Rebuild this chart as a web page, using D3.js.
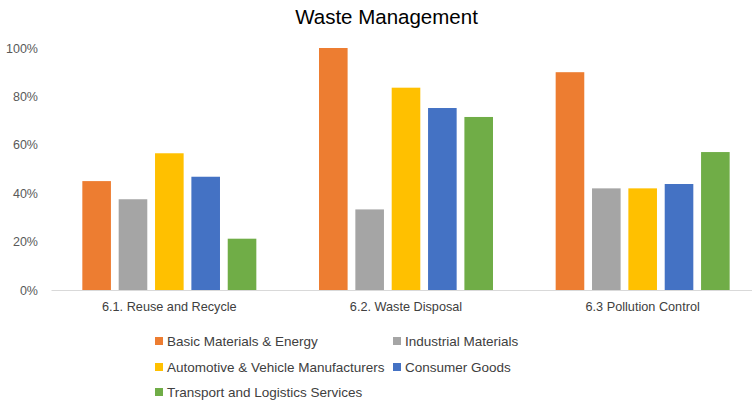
<!DOCTYPE html>
<html><head><meta charset="utf-8">
<script src="https://cdn.jsdelivr.net/npm/d3@7"></script>
<style>body{margin:0;background:#fff}svg{display:block}text{font-family:"Liberation Sans",Arial,sans-serif;fill:#595959}</style>
</head><body><svg id="c" width="752" height="403"></svg>
<script>
const categories = ["6.1. Reuse and Recycle", "6.2. Waste Disposal", "6.3 Pollution Control"];
const seriesNames = ["Basic Materials & Energy", "Industrial Materials", "Automotive & Vehicle Manufacturers", "Consumer Goods", "Transport and Logistics Services"];
const colors = ["#ED7D31", "#A5A5A5", "#FFC000", "#4472C4", "#70AD47"];
const basicMaterials = [0.45, 1.00, 0.90];
const industrialMaterials = [0.375, 0.333, 0.42];
const automotive = [0.565, 0.836, 0.42];
const consumerGoods = [0.468, 0.752, 0.438];
const transport = [0.212, 0.715, 0.57];
const yTicks = [0, 0.2, 0.4, 0.6, 0.8, 1.0];

const seriesValues = [basicMaterials, industrialMaterials, automotive, consumerGoods, transport];
const svg = d3.select("#c");
const x0 = d3.scaleBand().domain(categories).range([51, 761]).padding(0);
const x1 = d3.scaleBand().domain(seriesNames).range([0, x0.bandwidth()]).paddingInner(0.213).paddingOuter(0.862);
const y = d3.scaleLinear().domain([0, 1]).range([290, 48]);

svg.append("text").attr("x", 386.5).attr("y", 23.5).attr("text-anchor", "middle")
  .style("font-size", "20.5px").style("fill", "#000").text("Waste Management");

// y axis labels
const yAxis = d3.axisLeft(y).tickValues(yTicks).tickFormat(d3.format(".0%")).tickSize(0).tickPadding(13);
const ya = svg.append("g").attr("transform", "translate(51,0)").call(yAxis);
ya.select(".domain").remove();
ya.selectAll("text").style("font-size", "12.5px").style("fill", "#595959").attr("font-family", null);

// bars
const groups = svg.append("g").selectAll("g").data(categories).join("g")
  .attr("transform", d => `translate(${x0(d)},0)`);
groups.selectAll("rect").data((c, ci) => seriesNames.map((s, si) => ({s, si, v: seriesValues[si][ci]})))
  .join("rect")
  .attr("x", d => x1(d.s)).attr("width", x1.bandwidth())
  .attr("y", d => y(d.v)).attr("height", d => y(0) - y(d.v))
  .attr("fill", d => colors[d.si]);

// x axis
const xAxis = d3.axisBottom(x0).tickSize(0).tickPadding(12);
const xa = svg.append("g").attr("transform", "translate(0,290)").call(xAxis);
xa.select(".domain").attr("stroke", "#d9d9d9");
xa.selectAll("text").style("font-size", "12.7px").style("fill", "#404040").attr("font-family", null);

// legend
const legPos = [[155, 341], [393, 341], [155, 367], [393, 367], [155, 392]];
const leg = svg.append("g").selectAll("g").data(seriesNames).join("g")
  .attr("transform", (d, i) => `translate(${legPos[i][0]},${legPos[i][1]})`);
leg.append("rect").attr("x", 0).attr("y", -4).attr("width", 8).attr("height", 8).attr("fill", (d, i) => colors[i]);
leg.append("text").attr("x", 12).attr("y", 4.8).style("font-size", "13.5px").style("fill", "#404040").text(d => d);
</script></body></html>
